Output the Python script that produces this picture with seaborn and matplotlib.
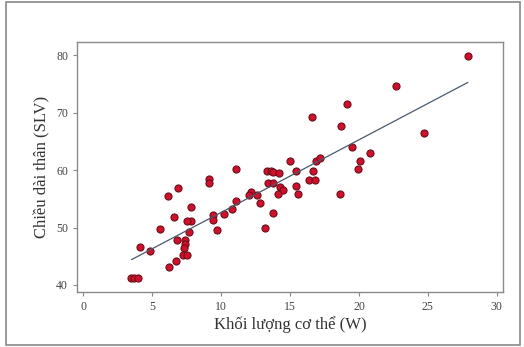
import numpy as np
import pandas as pd
import matplotlib
matplotlib.use("Agg")
import matplotlib.pyplot as plt
import seaborn as sns

# values
body_mass = [27.9, 22.7, 24.7, 19.1, 16.6, 18.7, 19.5, 20.8, 20.1, 19.9, 18.6,
             15.0, 15.4, 15.4, 15.6, 16.7, 16.9, 17.2, 16.4, 16.8,
             13.3, 13.6, 13.8, 14.2, 13.4, 13.8, 14.3, 14.5, 14.1, 13.8, 13.2,
             12.8, 12.6, 12.2, 12.0, 11.1, 11.1, 10.8, 10.2, 9.7, 9.4, 9.4,
             9.1, 9.15, 7.8, 7.8, 7.55, 7.7, 6.84, 6.13, 6.6, 6.8, 7.4, 7.4,
             7.3, 7.27, 7.56, 6.7, 6.23, 5.56, 4.86, 4.13, 3.5, 3.7, 3.96]
body_length = [79.8, 74.6, 66.5, 71.5, 69.3, 67.6, 64.0, 62.9, 61.6, 60.1, 55.9,
               61.6, 59.9, 57.3, 55.8, 59.9, 61.6, 62.1, 58.2, 58.2,
               59.9, 59.9, 59.6, 59.5, 57.8, 57.8, 57.1, 56.6, 55.9, 52.6, 50.0,
               54.3, 55.6, 56.2, 55.6, 60.1, 54.6, 53.2, 52.3, 49.6, 52.2, 51.3,
               58.4, 57.7, 53.5, 51.1, 51.1, 49.2, 56.8, 55.4, 51.8, 47.9, 47.9,
               47.2, 46.4, 45.2, 45.2, 44.1, 43.2, 49.7, 45.9, 46.6, 41.2, 41.2, 41.2]

x_ticks = [0, 5, 10, 15, 20, 25, 30]
y_ticks = [40, 50, 60, 70, 80]

df = pd.DataFrame({"W": body_mass, "SLV": body_length})

sns.set_style("white")
plt.rcParams["font.family"] = ["Liberation Serif", "DejaVu Serif"]

fig = plt.figure(figsize=(5.24, 3.47), dpi=100)
ax = fig.add_axes([0.147, 0.159, 0.813, 0.720])

sns.regplot(data=df, x="W", y="SLV", ax=ax, ci=None,
            scatter_kws=dict(s=26, color="#d0102a", edgecolor="#6a0f1c",
                             linewidths=0.8, alpha=1),
            line_kws=dict(color="#4a5a6a", lw=0.9))

ax.set_xlim(-0.45, 30.45)
ax.set_ylim(38.8, 82.3)
ax.set_xticks(x_ticks)
ax.set_yticks(y_ticks)
ax.set_xlabel("Khối lượng cơ thể (W)", fontsize=12, color="#333333", labelpad=2)
ax.set_ylabel("Chiều dài thân (SLV)", fontsize=12, color="#333333", labelpad=4)
ax.tick_params(axis="both", direction="out", length=3, width=0.8,
               colors="#888888", labelcolor="#444444", labelsize=8.5,
               bottom=True, left=True)
for sp in ax.spines.values():
    sp.set_color("#8a8a8a")
    sp.set_linewidth(1.0)

# outer frame around the whole picture
fig.patches.append(plt.Rectangle((0.012, 0.006), 0.98, 0.988, transform=fig.transFigure,
                                 fill=False, edgecolor="#888888", lw=1.2))

fig.savefig("out.png", dpi=100)
